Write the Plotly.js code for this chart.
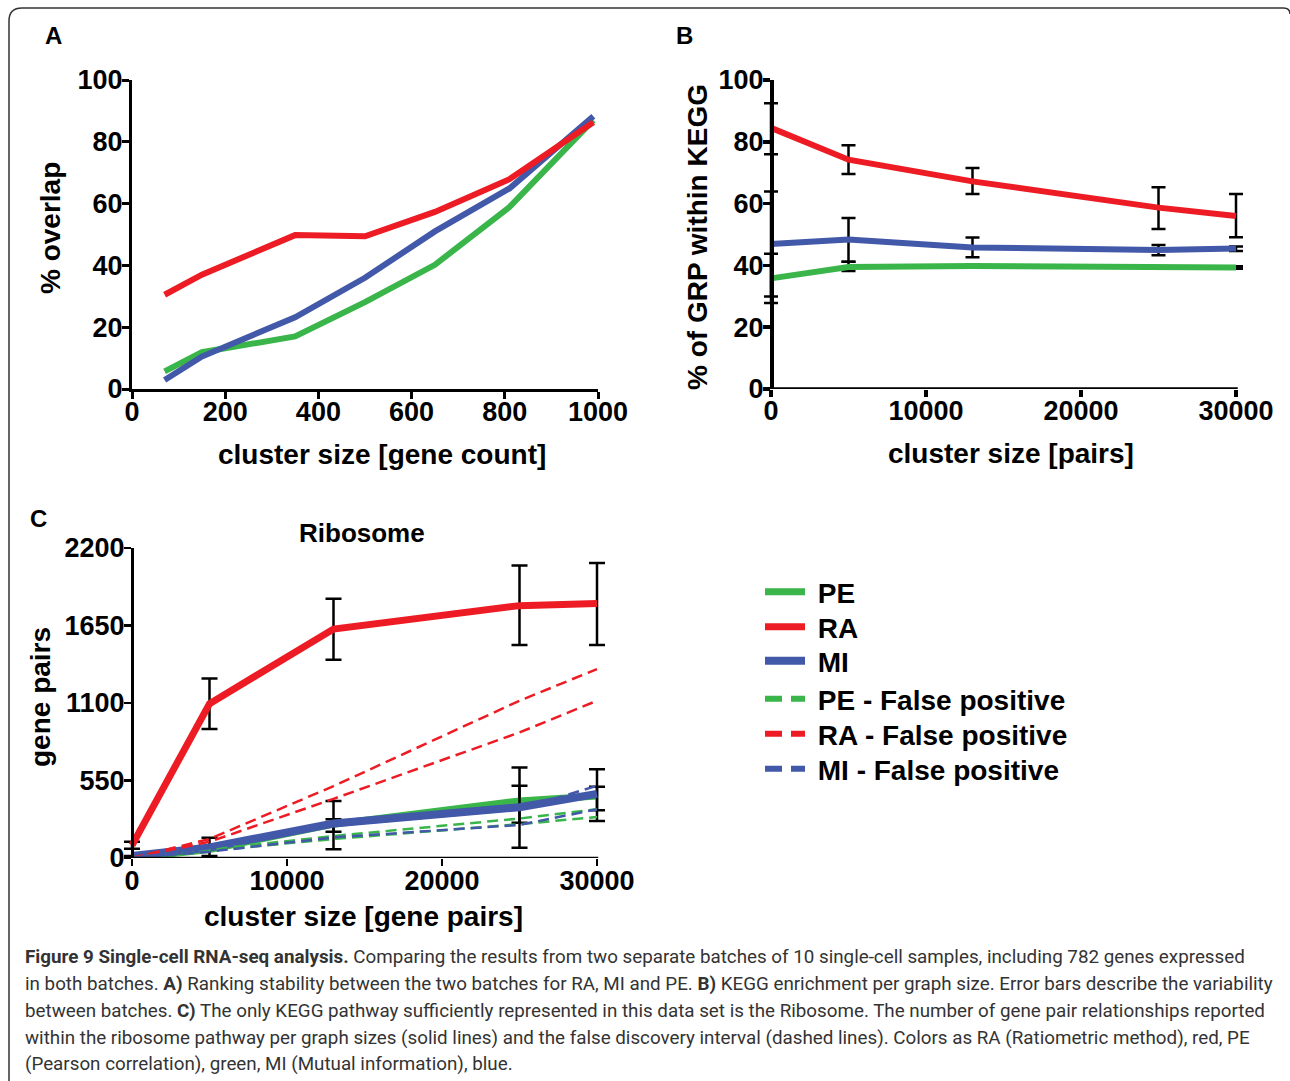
<!DOCTYPE html>
<html>
<head>
<meta charset="utf-8">
<script src="https://cdn.plot.ly/plotly-3.0.1.min.js"></script>
<style>
html,body{margin:0;padding:0;background:#fff;}
#chart{width:1290px;height:1081px;}
</style>
</head>
<body>
<div id="chart"></div>
<script>
// ---------------- DATA ----------------
// Panel A: ranking stability
const aClusterSize = [70, 150, 350, 500, 650, 810, 990];
const aRA = [30.5, 37, 49.8, 49.4, 57.3, 67.9, 86.3];
const aMI = [2.9, 10.5, 23.2, 36, 51, 64.9, 88.3];
const aPE = [5.7, 11.9, 17, 28.1, 40.2, 58.9, 87];

// Panel B: KEGG enrichment
const bClusterSize = [0, 5000, 13000, 25000, 30000];
const bRA = [84.5, 74.2, 67.2, 58.7, 56.0];
const bRAerrPlus = [8, 4.7, 4.3, 6.6, 7.1];
const bRAerrMinus = [8.5, 4.6, 4.1, 6.9, 6.9];
const bMI = [46.9, 48.4, 45.8, 45.0, 45.5];
const bMIerrPlus = [17, 6.9, 3.2, 1.6, 0.6];
const bMIerrMinus = [17, 7.2, 3.2, 1.7, 0.8];
const bPE = [35.8, 39.5, 39.8, 39.3, 39.3];
const bPEerrPlus = [8, 1.7, 0.4, 0.4, 0.4];
const bPEerrMinus = [8, 1.3, 0.4, 0.4, 0.4];

// Panel C: Ribosome gene pairs
const cClusterSize = [0, 5000, 13000, 25000, 30000];
const cRA = [90, 1095, 1625, 1791, 1807];
const cRAerrPlus = [25, 179, 214, 284, 287];
const cRAerrMinus = [25, 180, 218, 279, 295];
const cPE = [0, 60, 240, 405, 440];
const cPEerrPlus = [0, 0, 35, 107, 65];
const cPEerrMinus = [0, 0, 53, 155, 101];
const cMI = [15, 75, 245, 360, 455];
const cMIerrPlus = [0, 69, 160, 282, 175];
const cMIerrMinus = [0, 61, 183, 287, 192];
const cRAfpUpper = [0, 135, 510, 1116, 1341];
const cRAfpLower = [0, 115, 420, 891, 1116];
const cPEfpUpper = [0, 62, 156, 280, 346];
const cPEfpLower = [0, 50, 135, 240, 291];
const cMIfpUpper = [0, 70, 230, 346, 512];
const cMIfpLower = [0, 45, 146, 235, 346];

const legendNames = ['PE', 'RA', 'MI', 'PE - False positive', 'RA - False positive', 'MI - False positive'];

const aTicksX = [0, 200, 400, 600, 800, 1000];
const pctTicks = [0, 20, 40, 60, 80, 100];
const pairTicksX = [0, 10000, 20000, 30000];
const cTicksY = [0, 550, 1100, 1650, 2200];

// ---------------- STYLE ----------------
const RED = '#ed1c24', GREEN = '#3ab54a', BLUE = '#4258a8';
const FONT = 'Liberation Sans, Arial, Helvetica, sans-serif';
const W = 1290, H = 1081;
const px = v => v / W;
const py = v => 1 - v / H;

function errs(plus, minus, th, w) {
  return {type: 'data', symmetric: false, array: plus, arrayminus: minus,
          color: '#000', thickness: th || 2.5, width: w || 7, visible: true};
}

const traces = [];
// Panel A
[[aPE, GREEN], [aMI, BLUE], [aRA, RED]].forEach(([y, c]) => {
  traces.push({x: aClusterSize, y: y, xaxis: 'x', yaxis: 'y', mode: 'lines',
    line: {color: c, width: 6}, showlegend: false, cliponaxis: false, hoverinfo: 'skip'});
});
// Panel B
[[bPE, bPEerrPlus, bPEerrMinus, GREEN], [bMI, bMIerrPlus, bMIerrMinus, BLUE], [bRA, bRAerrPlus, bRAerrMinus, RED]]
 .forEach(([y, p, m, c]) => {
  traces.push({x: bClusterSize, y: y, xaxis: 'x2', yaxis: 'y2', mode: 'lines',
    line: {color: c, width: 6}, error_y: errs(p, m, 2.5, 7), showlegend: false, cliponaxis: false, hoverinfo: 'skip'});
});
// Panel C solids
const NB = '\u00a0';
traces.push({x: cClusterSize, y: cPE, xaxis: 'x3', yaxis: 'y3', mode: 'lines', name: NB + legendNames[0], legend: 'legend',
  line: {color: GREEN, width: 7}, error_y: errs(cPEerrPlus, cPEerrMinus, 2.5, 8), cliponaxis: false, hoverinfo: 'skip'});
traces.push({x: cClusterSize, y: cMI, xaxis: 'x3', yaxis: 'y3', mode: 'lines', name: NB + legendNames[2], legend: 'legend3',
  line: {color: BLUE, width: 8}, error_y: errs(cMIerrPlus, cMIerrMinus, 2.5, 8), cliponaxis: false, hoverinfo: 'skip'});
// Panel C dashed false positive bounds
[[cPEfpUpper, GREEN], [cPEfpLower, GREEN], [cRAfpUpper, RED], [cRAfpLower, RED], [cMIfpUpper, BLUE], [cMIfpLower, BLUE]]
 .forEach(([y, c]) => {
  traces.push({x: cClusterSize, y: y, xaxis: 'x3', yaxis: 'y3', mode: 'lines',
    line: {color: c, width: 2.5, dash: '11px,6px'}, showlegend: false, cliponaxis: false, hoverinfo: 'skip'});
});
traces.push({x: cClusterSize, y: cRA, xaxis: 'x3', yaxis: 'y3', mode: 'lines', name: NB + legendNames[1], legend: 'legend2',
  line: {color: RED, width: 7}, error_y: errs(cRAerrPlus, cRAerrMinus, 2.5, 8), cliponaxis: false, hoverinfo: 'skip'});
// legend entries for dashed series
[[3, GREEN], [4, RED], [5, BLUE]].forEach(([i, c]) => {
  traces.push({x: [null], y: [null], xaxis: 'x3', yaxis: 'y3', mode: 'lines', name: NB + legendNames[i], legend: 'legend' + (i + 1),
    line: {color: c, width: 6, dash: '17px,9px'}, hoverinfo: 'skip'});
});

const tickFont = {family: FONT, size: 27, color: '#000', weight: 'bold'};
function ax(domain, range, tickvals, lw, extra) {
  return Object.assign({
    domain: domain, range: range, tickmode: 'array', tickvals: tickvals, ticktext: tickvals.map(String),
    showgrid: false, zeroline: false, showline: true, linecolor: '#000', linewidth: lw,
    ticks: 'outside', ticklen: 7, tickwidth: lw, tickcolor: '#000', tickfont: tickFont,
    fixedrange: true
  }, extra || {});
}
// x axes of B and C get a small margin on both sides so end error-bar caps are not clipped;
// their axis line is drawn as a shape between 0 and 30000.
const PAD = 30000 / 465 * 10;

const layout = {
  width: W, height: H,
  margin: {l: 0, r: 0, t: 0, b: 0, autoexpand: false},
  paper_bgcolor: '#fff', plot_bgcolor: 'rgba(0,0,0,0)',
  xaxis: ax([px(132), px(598)], [0, 1000], aTicksX, 3, {anchor: 'y', ticklabelstandoff: -10}),
  yaxis: ax([py(389), py(80)], [0, 100], pctTicks, 3, {anchor: 'x', ticklabelstandoff: -6}),
  xaxis2: ax([px(761), px(1246)], [-PAD, 30000 + PAD], pairTicksX, 3.5, {anchor: 'y2', showline: false, ticklabelstandoff: -9}),
  yaxis2: ax([py(389), py(80)], [0, 100], pctTicks, 3.5, {anchor: 'free', position: px(771), ticklabelstandoff: -6}),
  xaxis3: ax([px(122), px(607)], [-PAD, 30000 + PAD], pairTicksX, 2.5, {anchor: 'y3', showline: false, ticklabelstandoff: -8}),
  yaxis3: ax([py(858), py(548)], [0, 2200], cTicksY, 2.5, {anchor: 'free', position: px(132), ticklabelstandoff: -6}),
  showlegend: true,
  shapes: [{
    type: 'path', xref: 'paper', yref: 'paper',
    path: `M ${px(9)},${py(1081)} L ${px(9)},${py(21)} Q ${px(9)},${py(8)} ${px(22)},${py(8)} L ${px(1283)},${py(8)} Q ${px(1290)},${py(8)} ${px(1290)},${py(14)}`,
    line: {color: '#333', width: 1.5}
  }, {
    type: 'line', xref: 'paper', yref: 'y2', x0: px(771 - 1.75), x1: px(1236 + 1.75), y0: 0, y1: 0,
    line: {color: '#000', width: 3.5}
  }, {
    type: 'line', xref: 'paper', yref: 'y3', x0: px(132 - 1.25), x1: px(597 + 1.25), y0: 0, y1: 0,
    line: {color: '#000', width: 2.5}
  }],
  annotations: []
};
// one legend box per entry so that spacing matches
const legendY = [592, 627, 661, 699, 734, 769];
legendY.forEach((y, i) => {
  const key = i === 0 ? 'legend' : 'legend' + (i + 1);
  layout[key] = {x: px(760), y: py(y), xanchor: 'left', yanchor: 'middle', bgcolor: 'rgba(0,0,0,0)',
    font: {family: FONT, size: 28, color: '#000', weight: 'bold'}, itemwidth: 40, borderwidth: 0};
});

function ann(text, x, y, size, extra) {
  layout.annotations.push(Object.assign({
    text: text, xref: 'paper', yref: 'paper', x: px(x), y: py(y), xanchor: 'center', yanchor: 'middle',
    showarrow: false, font: {family: FONT, size: size, color: '#000', weight: 'bold'}
  }, extra || {}));
}
// panel letters
ann('A', 53, 36, 24);
ann('B', 684, 36, 24);
ann('C', 38, 518, 24);
// axis titles
ann('cluster size [gene count]', 382, 454, 28);
ann('% overlap', 50, 228, 28, {textangle: -90});
ann('cluster size [pairs]', 1011, 453, 28);
ann('% of GRP within KEGG', 697, 237, 28, {textangle: -90});
ann('cluster size [gene pairs]', 363, 917, 28);
ann('gene pairs', 40, 697, 28, {textangle: -90});
ann('Ribosome', 362, 533, 26);

// caption
const captionLines = [
  '<b>Figure 9 Single-cell RNA-seq analysis.</b> Comparing the results from two separate batches of 10 single-cell samples, including 782 genes expressed',
  'in both batches. <b>A)</b> Ranking stability between the two batches for RA, MI and PE. <b>B)</b> KEGG enrichment per graph size. Error bars describe the variability',
  'between batches. <b>C)</b> The only KEGG pathway sufficiently represented in this data set is the Ribosome. The number of gene pair relationships reported',
  'within the ribosome pathway per graph sizes (solid lines) and the false discovery interval (dashed lines). Colors as RA (Ratiometric method), red, PE',
  '(Pearson correlation), green, MI (Mutual information), blue.'
];
const captionY = [957, 984, 1011, 1038, 1064];
captionLines.forEach((t, i) => {
  layout.annotations.push({
    text: t, xref: 'paper', yref: 'paper', x: px(23), y: py(captionY[i]), xanchor: 'left', yanchor: 'middle',
    showarrow: false, align: 'left',
    font: {family: 'Roboto, Lato, sans-serif', size: 18.8, color: '#333', weight: 'normal'}
  });
});

Plotly.newPlot('chart', traces, layout, {staticPlot: true, displayModeBar: false});
</script>
</body>
</html>
